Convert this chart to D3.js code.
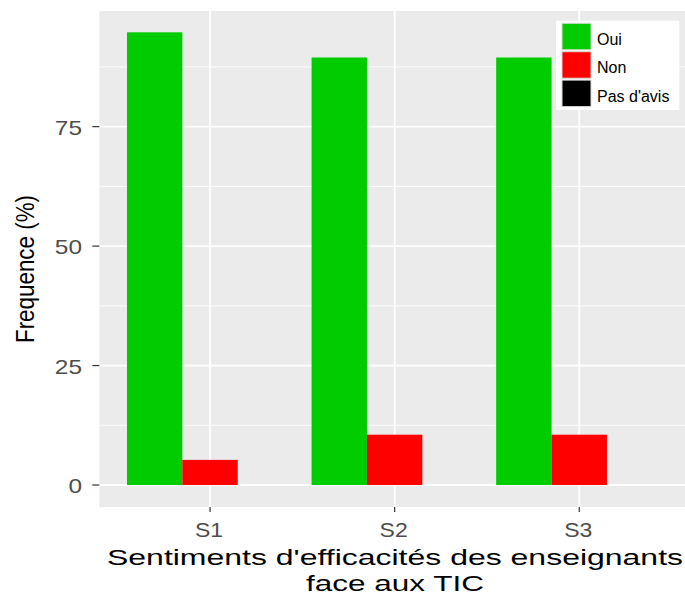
<!DOCTYPE html>
<html>
<head>
<meta charset="utf-8">
<script src="https://cdn.jsdelivr.net/npm/d3@7"></script>
<style>
  body { margin: 0; background: #fff; }
  text { font-family: "Liberation Sans", Arial, sans-serif; }
</style>
</head>
<body>
<div id="chart"></div>
<script>
// values (19 answers -> 18/19, 17/19 ...)
var categories = ["S1", "S2", "S3"];
var seriesNames = ["Oui", "Non", "Pas d'avis"];
var oui = [94.74, 89.47, 89.47];
var non = [5.26, 10.53, 10.53];
var pasAvis = [0, 0, 0];
var yTicks = [0, 25, 50, 75];
var yMinor = [12.5, 37.5, 62.5, 87.5];
var colors = ["#00cc00", "#ff0000", "#000000"];

var W = 685, H = 596;
var panel = {left: 99.3, right: 690, top: 11, bottom: 507};

var svg = d3.select("#chart").append("svg")
  .attr("width", W)
  .attr("height", H);

var x = d3.scalePoint()
  .domain(categories)
  .range([panel.left, panel.right])
  .padding(0.6);

var step = x.step();
var xDodge = d3.scaleBand()
  .domain(seriesNames)
  .range([-0.45 * step, 0.45 * step]);

var y = d3.scaleLinear()
  .domain([-4.6, 99.2])
  .range([panel.bottom, panel.top]);

// panel background
svg.append("rect")
  .attr("x", panel.left)
  .attr("y", panel.top)
  .attr("width", panel.right - panel.left)
  .attr("height", panel.bottom - panel.top)
  .attr("fill", "#ebebeb");

// grid lines
svg.selectAll(".minor")
  .data(yMinor)
  .enter().append("line")
  .attr("x1", panel.left).attr("x2", panel.right)
  .attr("y1", d => y(d)).attr("y2", d => y(d))
  .attr("stroke", "#fff").attr("stroke-width", 0.9);

svg.selectAll(".major")
  .data(yTicks)
  .enter().append("line")
  .attr("x1", panel.left).attr("x2", panel.right)
  .attr("y1", d => y(d)).attr("y2", d => y(d))
  .attr("stroke", "#fff").attr("stroke-width", 1.8);

svg.selectAll(".vmajor")
  .data(categories)
  .enter().append("line")
  .attr("x1", d => x(d)).attr("x2", d => x(d))
  .attr("y1", panel.top).attr("y2", panel.bottom)
  .attr("stroke", "#fff").attr("stroke-width", 1.8);

// bars
var series = [oui, non, pasAvis];
series.forEach(function(vals, si){
  svg.selectAll(".bar" + si)
    .data(vals)
    .enter().append("rect")
    .attr("x", (d, i) => x(categories[i]) + xDodge(seriesNames[si]))
    .attr("width", xDodge.bandwidth())
    .attr("y", d => y(d))
    .attr("height", d => y(0) - y(d))
    .attr("fill", colors[si]);
});

// y axis ticks + labels
var yAxis = svg.append("g");
yTicks.forEach(function(t){
  yAxis.append("line")
    .attr("x1", panel.left - 7).attr("x2", panel.left)
    .attr("y1", y(t)).attr("y2", y(t))
    .attr("stroke", "#333").attr("stroke-width", 1.2);
  yAxis.append("text")
    .attr("transform", "translate(" + 82 + "," + (y(t) + 8) + ") scale(1.22,1)")
    .attr("text-anchor", "end")
    .attr("font-size", 20)
    .attr("fill", "#4d4d4d")
    .text(t);
});

// x axis ticks + labels
var xAxis = svg.append("g");
categories.forEach(function(c){
  xAxis.append("line")
    .attr("x1", x(c)).attr("x2", x(c))
    .attr("y1", panel.bottom).attr("y2", panel.bottom + 5)
    .attr("stroke", "#333").attr("stroke-width", 1.2);
  xAxis.append("text")
    .attr("transform", "translate(" + (x(c) - 1) + "," + 537 + ") scale(1.15,1)")
    .attr("text-anchor", "middle")
    .attr("font-size", 20)
    .attr("fill", "#4d4d4d")
    .text(c);
});

// axis titles
svg.append("text")
  .attr("x", 395).attr("y", 565)
  .attr("text-anchor", "middle")
  .attr("font-size", 22.5)
  .attr("textLength", 576)
  .attr("lengthAdjust", "spacingAndGlyphs")
  .text("Sentiments d'efficacités des enseignants");

svg.append("text")
  .attr("x", 395).attr("y", 591)
  .attr("text-anchor", "middle")
  .attr("font-size", 22.5)
  .attr("textLength", 178)
  .attr("lengthAdjust", "spacingAndGlyphs")
  .text("face aux TIC");

svg.append("text")
  .attr("transform", "translate(34,269) rotate(-90)")
  .attr("text-anchor", "middle")
  .attr("font-size", 25)
  .attr("textLength", 148)
  .attr("lengthAdjust", "spacingAndGlyphs")
  .text("Frequence (%)");

// legend
var legend = svg.append("g");
legend.append("rect")
  .attr("x", 556).attr("y", 20.7)
  .attr("width", 123.3).attr("height", 89.3)
  .attr("fill", "#fff");

seriesNames.forEach(function(s, i){
  var ky = 23.3 + i * 28.4;
  legend.append("rect")
    .attr("x", 562).attr("y", ky)
    .attr("width", 29).attr("height", 26.5)
    .attr("fill", colors[i])
    .attr("stroke", "#d9d9d9").attr("stroke-width", 1);
  legend.append("text")
    .attr("x", 597).attr("y", ky + 21.5)
    .attr("font-size", 16)
    .attr("fill", "#000")
    .text(s);
});
</script>
</body>
</html>
